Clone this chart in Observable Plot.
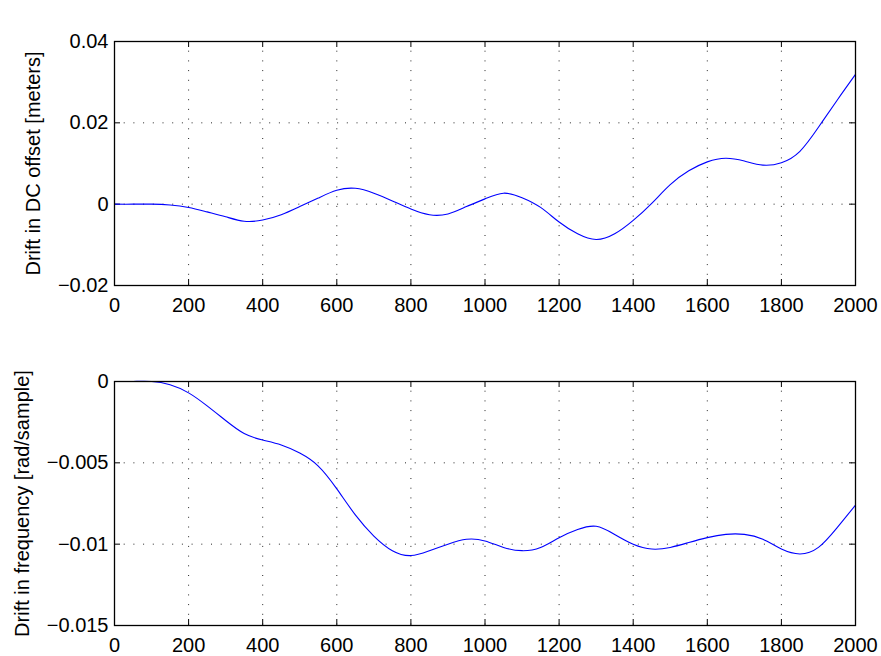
<!DOCTYPE html>
<html>
<head>
<meta charset="utf-8">
<script src="https://cdn.jsdelivr.net/npm/d3@7"></script>
<script src="https://cdn.jsdelivr.net/npm/@observablehq/plot@0.6"></script>
<style>
  html, body { margin: 0; padding: 0; background: #fff; }
  #wrap { position: relative; width: 881px; height: 656px; overflow: hidden; font-family: "Liberation Sans", Arial, Helvetica, sans-serif; }
  #title { position: absolute; left: 0; width: 969px; top: 7px; line-height: 20px; font-size: 20px; text-align: center; color: #000; }
  #top, #bottom { position: absolute; left: 0; }
  #top { top: 0; }
  #bottom { top: 330px; }
</style>
</head>
<body>
<div id="wrap">
  <div id="title">Drifts</div>
  <div id="top"></div>
  <div id="bottom"></div>
</div>
<script>
// ---- data ----
const samples = [0,50,100,150,200,250,300,350,400,450,500,550,600,650,700,750,800,850,900,950,
                 1000,1050,1100,1150,1200,1250,1300,1350,1400,1450,1500,1550,1600,1650,1700,1750,1800,1850,1900,1950,2000];
const dcOffset = [0,0,0,-0.0002,-0.0008,-0.0019,-0.0031,-0.0042,-0.0039,-0.0026,-0.0006,0.0015,0.0034,0.0039,0.0027,0.0008,-0.0012,-0.0026,-0.0024,-0.0006,
                  0.0013,0.0027,0.0016,-0.0008,-0.0044,-0.0073,-0.0087,-0.0073,-0.0040,0.0002,0.0048,0.0082,0.0104,0.0113,0.0106,0.0096,0.0102,0.0130,0.0189,0.0255,0.0319];
const freqDrift = [0,0,0,-0.0002,-0.0007,-0.0015,-0.0024,-0.0032,-0.0036,-0.0039,-0.0044,-0.0052,-0.0066,-0.0082,-0.0095,-0.0104,-0.0107,-0.0104,-0.0100,-0.0097,
                   -0.0098,-0.0102,-0.0104,-0.0102,-0.0096,-0.0091,-0.0089,-0.0094,-0.0100,-0.0103,-0.0102,-0.0099,-0.0096,-0.0094,-0.0094,-0.0097,-0.0103,-0.0106,-0.0102,-0.0090,-0.0076];
const xTicks = [0,200,400,600,800,1000,1200,1400,1600,1800,2000];
const xTickLabels = ["0","200","400","600","800","1000","1200","1400","1600","1800","2000"];
const yTicksTop = [-0.02,0,0.02,0.04];
const yTickLabelsTop = ["\u22120.02","0","0.02","0.04"];
const yTicksBottom = [-0.015,-0.01,-0.005,0];
const yTickLabelsBottom = ["\u22120.015","\u22120.01","\u22120.005","0"];
const yLabelTop = "Drift in DC offset [meters]";
const yLabelBottom = "Drift in frequency [rad/sample]";

const topData = samples.map((x, i) => ({x, y: dcOffset[i]}));
const bottomData = samples.map((x, i) => ({x, y: freqDrift[i]}));

function panel({data, yDomain, yTicks, yLabels, yLabel, height, marginTop, marginBottom, labelOffset}) {
  const marginLeft = 114, marginRight = 26, width = 881;
  const ph = height - marginTop - marginBottom;
  const pw = width - marginLeft - marginRight;
  const tick = 6;
  const grid = {stroke: "#000", strokeOpacity: 0.85, strokeWidth: 1, strokeDasharray: "1,8.7"};
  const tickStyle = {stroke: "#000", strokeWidth: 1};
  return Plot.plot({
    width, height, marginLeft, marginRight, marginTop, marginBottom,
    style: {fontSize: "20px", fontFamily: "'Liberation Sans', Arial, Helvetica, sans-serif", color: "#000", background: "#fff"},
    x: {domain: [0, 2000]},
    y: {domain: yDomain},
    marks: [
      Plot.ruleX(xTicks.slice(1, -1), {...grid}),
      Plot.ruleY(yTicks.slice(1, -1), {...grid}),
      // inward ticks on all sides
      Plot.ruleX(xTicks, {...tickStyle, insetTop: ph - tick}),
      Plot.ruleX(xTicks, {...tickStyle, insetBottom: ph - tick}),
      Plot.ruleY(yTicks, {...tickStyle, insetRight: pw - tick}),
      Plot.ruleY(yTicks, {...tickStyle, insetLeft: pw - tick}),
      Plot.line(data, {x: "x", y: "y", stroke: "#0000ff", strokeWidth: 1.1, curve: "natural"}),
      Plot.frame({stroke: "#000", strokeWidth: 1.3}),
      Plot.axisX(xTicks, {anchor: "bottom", tickSize: 0, tickPadding: 12, tickFormat: (d, i) => xTickLabels[i], label: null, fontSize: 20}),
      Plot.axisY(yTicks, {anchor: "left", tickSize: 0, tickPadding: 6, tickFormat: (d, i) => yLabels[i], label: yLabel, labelAnchor: "center", labelArrow: "none", labelOffset, fontSize: 20})
    ]
  });
}

document.getElementById("top").append(panel({
  data: topData, yDomain: [-0.02, 0.04], yTicks: yTicksTop, yLabels: yTickLabelsTop, yLabel: yLabelTop,
  height: 330, marginTop: 41, marginBottom: 45, labelOffset: 89
}));
document.getElementById("bottom").append(panel({
  data: bottomData, yDomain: [-0.015, 0], yTicks: yTicksBottom, yLabels: yTickLabelsBottom, yLabel: yLabelBottom,
  height: 326, marginTop: 51, marginBottom: 31, labelOffset: 100
}));
</script>
</body>
</html>
